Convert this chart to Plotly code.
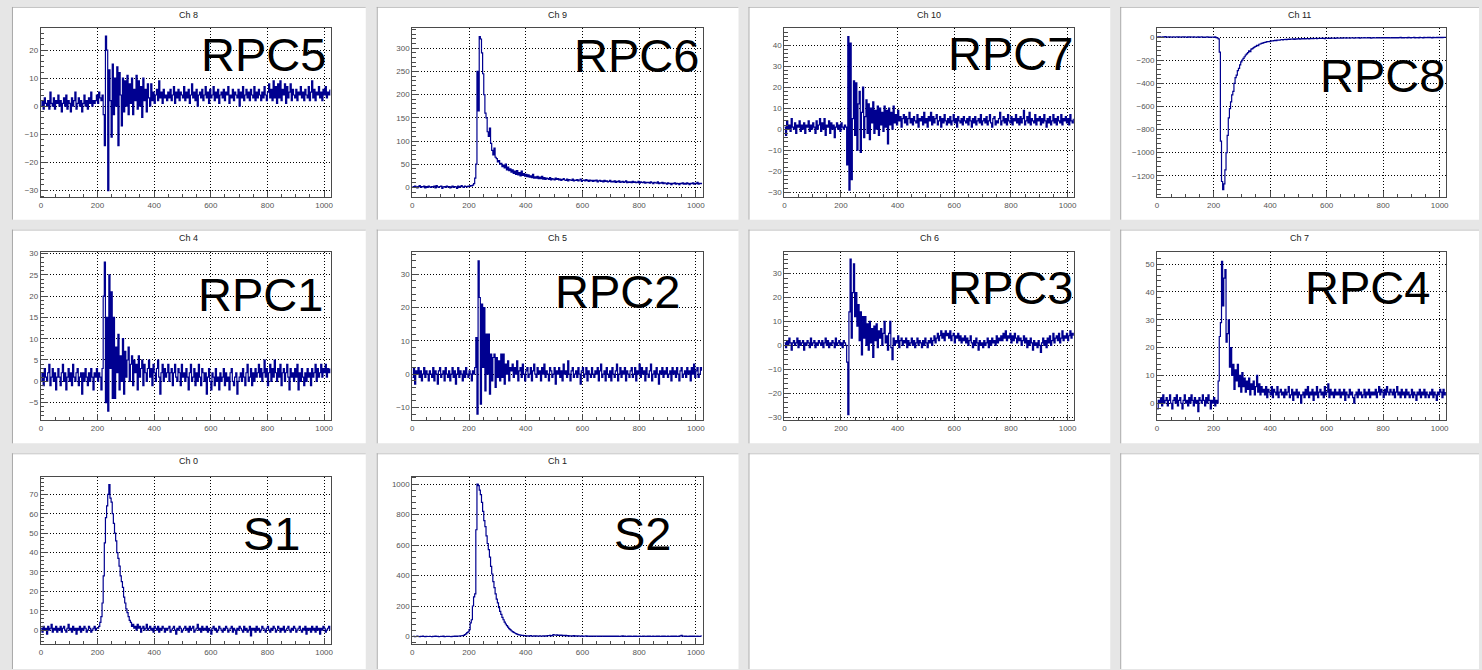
import plotly.graph_objects as go

W, H = 1482, 670

# Waveforms sampled every 4 ADC bins (0..1020), one list per channel
ch8_rpc5 = [
    0, 2, -1, 3, 1, 0, 2, -1, 5, 1, 0, 3, -1, 2, 1, 4,
    0, 2, -2, 1, 3, 0, 4, -1, 2, 1, -2, 3, 0, 2, 5, -1,
    1, 3, 0, 2, -2, 1, 4, 0, 2, -1, 3, 1, 5, 0, 2, 1,
    2, 4, 1, 5, 3, 2, 4, -3, -14, 25, 20, -30, 13, 2, -11, 15,
    -3, 10, 0, 14, -14, 12, 4, -7, 10, -2, 9, 0, 11, -3, 8, 1,
    10, -3, 6, 2, 11, -1, 9, 0, 7, -4, 10, 2, 6, -2, 8, 3,
    0, 8, 2, 5, 1, 4, 6, 2, 9, 3, 5, 1, 6, 3, 4, 2,
    5, 3, 6, 2, 4, 7, 1, 5, 3, 6, 2, 5, 4, 3, 7, 2,
    5, 3, 6, 1, 4, 8, 3, 5, 2, 6, 0, 4, 5, 3, 6, 2,
    4, 7, 3, 5, 1, 6, 3, 4, 7, 2, 5, 3, 6, 1, 4, 5,
    3, 6, 2, 5, 4, 7, 1, 4, 3, 6, 2, 5, 4, 3, 6, 0,
    5, 3, 7, 2, 4, 6, 3, 5, 2, 6, 4, 3, 7, 2, 5, 3,
    6, 4, 2, 5, 3, 7, 4, 2, 5, 8, 3, 6, 2, 9, 3, 7,
    1, 8, 3, 9, 2, 6, 4, 8, 1, 7, 3, 5, 8, 2, 6, 4,
    3, 6, 2, 5, 4, 7, 3, 5, 2, 6, 4, 3, 7, 2, 5, 9,
    3, 6, 2, 5, 4, 7, 3, 5, 2, 6, 4, 7, 3, 5, 4, 6,
]

ch9_rpc6 = [
    2, 0, 3, 1, -1, 2, 4, 0, 2, 1, 3, -1, 2, 0, 3, 1,
    0, 2, 1, 3, -1, 4, 1, 0, 2, 3, -2, 1, 2, 0, 3, 1,
    2, -1, 1, 3, 0, 2, 1, -2, 3, 0, 2, 4, 1, 0, 3, 2,
    1, 3, 2, 4, 3, 5, 8, 20, 50, 250, 165, 325, 320, 290, 245, 200,
    160, 150, 120, 110, 128, 95, 80, 70, 85, 65, 62, 55, 58, 50, 52, 45,
    48, 42, 50, 38, 44, 36, 40, 33, 38, 30, 35, 28, 36, 27, 32, 25,
    35, 26, 30, 24, 28, 23, 27, 22, 25, 21, 28, 20, 23, 20, 24, 19,
    22, 19, 24, 18, 21, 17, 20, 19, 17, 21, 16, 19, 18, 16, 20, 17,
    19, 16, 18, 15, 17, 19, 16, 15, 18, 14, 17, 16, 15, 18, 14, 16,
    15, 17, 14, 16, 18, 13, 15, 16, 14, 17, 15, 13, 16, 14, 15, 13,
    15, 14, 16, 12, 14, 15, 13, 14, 12, 15, 13, 14, 12, 13, 15, 12,
    13, 12, 14, 11, 13, 12, 14, 11, 12, 13, 11, 12, 14, 10, 12, 11,
    12, 10, 13, 11, 12, 10, 11, 13, 9, 12, 11, 10, 12, 9, 11, 10,
    11, 9, 12, 10, 8, 11, 10, 9, 12, 8, 10, 9, 11, 8, 10, 9,
    7, 10, 8, 9, 6, 9, 8, 10, 7, 9, 8, 6, 9, 8, 10, 7,
    9, 7, 10, 8, 6, 9, 8, 10, 7, 9, 8, 11, 7, 9, 8, 10,
]

ch10_rpc7 = [
    1, -3, 4, 0, 2, -1, 5, 1, 0, 3, -2, 2, 1, 4, -1, 2,
    0, 3, -2, 2, 1, 4, -1, 2, 0, 3, 1, -2, 4, 0, 2, 5,
    -1, 3, 0, 5, -3, 2, 1, 4, -2, 3, 0, 2, -4, 1, 3, 0,
    2, -1, 3, 1, 0, 2, 1, -17, 44, -29, 41, -24, 5, 23, -3, 22,
    -10, 12, 18, -11, 8, 20, -4, 6, 14, -2, 12, -5, 10, 3, 13, -2,
    9, 0, 11, -3, 10, 2, 8, -1, 11, 1, 9, -7, 10, 2, 8, 0,
    11, 3, 7, 2, 9, 4, 6, 1, 5, 7, 3, 6, 2, 5, 8, 3,
    5, 2, 6, 4, 3, 7, 1, 5, 4, 6, 2, 8, 3, 5, 1, 6,
    4, 8, 2, 6, 3, 5, 7, 2, 4, 6, 1, 5, 3, 7, 4, 2,
    5, 3, 6, 2, 4, 7, 3, 5, 1, 6, 4, 3, 5, 2, 6, 4,
    3, 5, 2, 6, 4, 1, 5, 3, 6, 2, 4, 5, 3, 7, 2, 4,
    5, 3, 6, 2, 4, 7, 3, 1, 5, 6, 2, 4, 3, 5, 8, 2,
    4, 6, 3, 5, 2, 7, 4, 3, 6, 2, 5, 4, 7, 3, 5, 2,
    6, 3, 5, 9, 2, 4, 6, 3, 8, 2, 5, 4, 3, 7, 2, 5,
    4, 6, 2, 5, 3, 7, 4, 1, 5, 3, 6, 2, 4, 7, 3, 5,
    2, 6, 4, 3, 7, 2, 5, 4, 6, 3, 5, 2, 7, 4, 3, 5,
]

ch11_rpc8 = [
    2, 0, 3, 1, -2, 2, 0, 4, 1, -1, 2, 3, 0, 1, 2, -1,
    1, 3, 0, 2, -1, 1, 3, 0, 2, 1, -2, 2, 0, 3, 1, 0,
    2, -1, 1, 0, 3, -2, 1, 2, 0, -3, 1, -1, 2, 0, -2, 1,
    -1, 0, -2, 2, -4, -8, -15, -130, -900, -1250, -1320, -1270, -1150, -1000, -850, -700,
    -620, -560, -500, -470, -400, -350, -330, -290, -270, -240, -215, -200, -185, -170, -155, -145,
    -135, -120, -125, -105, -100, -92, -85, -80, -72, -75, -62, -60, -55, -52, -48, -45,
    -44, -40, -38, -40, -35, -32, -34, -30, -28, -30, -26, -25, -27, -23, -22, -24,
    -21, -20, -22, -19, -18, -20, -17, -18, -16, -19, -15, -17, -16, -14, -17, -15,
    -14, -16, -13, -15, -12, -14, -16, -12, -13, -11, -14, -12, -10, -13, -11, -12,
    -10, -12, -9, -11, -13, -9, -10, -12, -8, -11, -9, -10, -8, -11, -9, -7,
    -10, -8, -9, -7, -10, -8, -6, -9, -7, -8, -10, -6, -8, -7, -9, -6,
    -8, -7, -5, -9, -7, -6, -8, -5, -7, -6, -8, -5, -7, -9, -6, -5,
    -7, -6, -8, -5, -6, -7, -4, -6, -8, -5, -7, -4, -6, -5, -7, -6,
    -4, -6, -5, -7, -4, -6, -5, -3, -6, -4, -7, -5, -4, -6, -3, -5,
    -6, -4, -5, -3, -6, -4, -5, -7, -3, -5, -4, -6, -3, -5, -4, -2,
    -5, -3, -4, -6, -2, -4, -5, -3, -4, -2, -5, -3, -4, -2, -3, -4,
]

ch4_rpc1 = [
    0, 2, -1, 3, 1, 0, 2, 4, -1, 1, 3, 0, 2, -2, 1, 3,
    1, -1, 2, 4, 0, 2, -2, 1, 3, 0, 2, -1, 4, 1, 0, 2,
    3, -1, 1, 2, -3, 2, 0, 3, 1, -1, 2, 0, 3, 1, -2, 2,
    1, 3, 0, 2, 1, -2, 3, 20, 28, -5, 15, -7, 25, 3, 21, -4,
    15, -4, 8, 2, 11, -2, 6, 0, 10, -3, 7, 1, 5, 8, 0, 4,
    6, -1, 5, 2, 4, -2, 6, 1, 3, 5, -1, 4, 2, 0, 3, 5,
    1, 3, -1, 4, 2, 0, 3, 5, 1, -3, 2, 4, 0, 3, 1, 2,
    4, 0, 2, 3, -1, 2, 4, 1, 0, 3, 2, -1, 4, 1, 2, 0,
    3, 1, -2, 2, 4, 0, 1, 3, -1, 2, 0, 4, 1, -1, 3, 2,
    0, 2, -3, 1, 3, 0, -2, 2, 1, -1, 3, 0, 1, -2, 2, 0,
    1, 3, -1, 2, 0, 1, -2, 2, 3, 0, -1, 1, 2, -3, 0, 1,
    2, 0, 3, 1, -1, 2, 4, 0, 1, 3, -1, 2, 0, 3, 1, 2,
    4, 1, 3, 0, 2, 5, 1, 3, -1, 2, 4, 0, 3, 1, 5, 2,
    0, 3, 1, 4, -1, 2, 3, 0, 2, 4, 1, -2, 3, 1, 2, 0,
    3, 1, 4, -2, 2, 0, 3, 1, -1, 2, 0, 3, 1, 2, -1, 3,
    1, 2, 4, 0, 3, 1, 2, 4, 1, 3, 2, 4, 1, 3, 2, 3,
]

ch5_rpc2 = [
    -1, 2, -3, 1, 0, 2, -1, 1, -2, 0, 2, -1, 1, 0, -2, 1,
    0, -1, 2, -2, 1, 0, -3, 1, 2, -1, 0, 1, -2, 2, 0, -1,
    1, -2, 0, 2, -1, 1, -3, 0, 2, -1, 1, 0, -2, 1, -1, 2,
    0, -1, 1, 0, -2, 1, 0, 2, 11, -12, 34, 23, -9, 21, 2, 20,
    -5, 12, 0, 12, -6, 6, -2, 5, 6, -4, 5, -1, 4, -2, 6, -1,
    6, -3, 3, 0, 4, -2, 2, 1, 3, -1, 2, 0, 4, -2, 1, 2,
    -1, 3, 0, -2, 1, 2, -1, 0, 2, -2, 1, 3, 0, -1, 2, 0,
    1, -2, 2, 0, 3, -1, 1, 0, -2, 2, 1, -1, 0, 2, -3, 1,
    0, 2, -1, 1, -2, 3, 0, 1, -1, 4, 0, -2, 1, 2, -1, 0,
    1, -1, 2, 0, -3, 1, 2, -1, 0, 2, -2, 1, 0, -1, 2, 0,
    -1, 1, 0, 2, -2, 1, 3, -1, 0, 1, -2, 2, 0, -1, 1, -2,
    2, 0, -1, 1, 3, -2, 0, 2, -1, 1, 0, 2, -2, 1, 0, -1,
    1, 2, -1, 0, 2, -2, 1, 0, 3, -1, 2, 0, 1, -2, 2, 0,
    -1, 1, 3, -2, 0, 1, -1, 2, 0, -3, 1, 0, 2, -1, 1, 0,
    2, -1, 0, 1, -2, 2, 0, 1, -1, 2, 0, -2, 1, 2, -1, 0,
    1, -1, 2, 0, 1, -2, 2, 0, 3, -1, 1, 2, -1, 0, 2, 1,
]

ch6_rpc3 = [
    1, -1, 2, 0, 3, 1, -2, 1, 2, 0, 1, 3, -1, 2, 0, 1,
    2, -2, 1, 0, 2, 1, -1, 3, 0, 1, 2, -1, 1, 0, 2, 1,
    0, 2, -1, 1, 3, 0, 2, -1, 1, 0, 2, 1, -1, 3, 0, 1,
    2, 0, 1, -1, 2, 1, 0, -7, -29, 14, 36, 3, 22, 34, 12, 22,
    8, 17, 2, 14, -4, 12, 3, 12, 0, 9, -2, 10, 1, 7, -5, 8,
    2, 9, -1, 6, 3, 7, 0, 5, 10, 1, 4, -2, 5, 10, -1, -6,
    3, 0, 2, 1, 4, -1, 2, 3, 0, 2, 1, 3, -1, 2, 0, 1,
    3, 0, 2, -1, 1, 3, 0, 2, 1, -1, 2, 0, 3, 1, -1, 2,
    1, 3, 0, 2, 4, 1, 3, 5, 2, 4, 6, 3, 5, 2, 6, 4,
    5, 3, 6, 2, 4, 5, 1, 4, 3, 5, 2, 4, 1, 3, 2, 4,
    1, 3, 0, 2, 4, 1, -1, 2, 0, 3, 1, -2, 2, 0, 1, -1,
    2, 0, 1, 3, -1, 2, 0, 3, 1, 2, 0, 4, 1, 3, 2, 4,
    2, 5, 3, 6, 2, 4, 3, 5, 1, 4, 2, 5, 3, 1, 4, 2,
    3, 0, 2, 4, 1, 3, -1, 2, 0, 3, 1, -2, 2, 0, 1, -1,
    2, 0, -3, 1, 3, 0, 2, -1, 3, 1, 4, 0, 2, 5, 1, 3,
    4, 2, 5, 1, 3, 6, 2, 4, 3, 5, 2, 4, 6, 3, 5, 4,
]

ch7_rpc4 = [
    -2, 1, 0, 2, -1, 3, 0, 1, 2, -1, 1, 3, 0, -2, 1, 2,
    0, 3, -1, 1, 2, 0, -2, 1, 3, 0, 1, -1, 2, 0, 3, 1,
    -1, 2, 0, 1, -3, 2, 1, 0, 3, 1, -1, 2, 0, 3, 1, -2,
    1, 0, 2, -1, 1, 0, 8, 24, 29, 51, 35, 45, 48, 22, 25, 30,
    13, 20, 10, 14, 5, 12, 8, 14, 6, 10, 4, 11, 6, 9, 4, 8,
    5, 9, 3, 7, 5, 8, 3, 6, 10, 4, 7, 3, 6, 4, 5, 3,
    6, 2, 5, 4, 3, 6, 2, 5, 4, 3, 6, 2, 4, 5, 3, 4,
    2, 5, 3, 4, 6, 2, 3, 5, 1, 4, 3, 5, 2, 4, 3, 0,
    3, 4, 2, 5, 3, 6, 2, 4, 3, 5, 1, 4, 3, 6, 2, 4,
    5, 3, 4, 2, 6, 3, 4, 7, 2, 5, 3, 4, 2, 5, 3, 4,
    3, 5, 2, 4, 3, 5, 1, 4, 3, 2, 5, 3, 4, 2, 0, 3,
    4, 2, 5, 3, 4, 2, 3, 5, 2, 4, 3, 5, 2, 4, 3, 4,
    3, 5, 2, 4, 6, 3, 5, 4, 2, 5, 3, 6, 4, 3, 5, 4,
    3, 5, 2, 4, 6, 3, 4, 2, 5, 3, 4, 2, 5, 3, 4, 2,
    3, 5, 2, 4, 3, 1, 4, 3, 5, 2, 4, 3, 5, 2, 4, 3,
    2, 4, 3, 5, 2, 4, 3, 1, 4, 3, 5, 4, 2, 5, 3, 4,
]

ch0_s1 = [
    1, -1, 2, 0, 1, -2, 2, 0, 1, 3, -1, 1, 0, 2, -1, 1,
    0, 2, -1, 1, 2, 0, -1, 1, 3, 0, 1, -1, 2, 0, 1, -2,
    1, 0, 2, -1, 1, 0, 2, 1, -1, 0, 2, 1, -1, 0, 1, 2,
    0, 1, 1, 2, 4, 7, 14, 28, 45, 58, 64, 70, 75, 68, 66, 60,
    55, 50, 46, 40, 37, 33, 28, 25, 22, 17, 14, 11, 9, 7, 5, 4,
    2, 3, 1, 2, 0, 3, 1, 2, -1, 1, 2, 0, 1, 3, 0, 1,
    2, 0, 1, -1, 2, 1, 0, 2, -1, 1, 0, 2, 1, -1, 1, 0,
    1, 2, -1, 0, 1, 2, 0, -2, 1, 0, 2, 1, -1, 0, 1, 2,
    0, 1, -1, 2, 0, 1, 2, -1, 0, 1, 3, 0, 1, -1, 2, 0,
    1, 0, 2, -1, 1, 0, -2, 1, 2, 0, 1, -1, 0, 2, 1, 0,
    -1, 1, 0, 2, 1, -1, 0, 1, 2, -1, 1, 0, -2, 1, 0, 2,
    1, 0, -1, 2, 0, 1, -1, 0, 2, -3, 1, 0, 1, -1, 2, 0,
    1, -1, 0, 2, 1, 0, -1, 1, 2, 0, -1, 1, 0, 2, 1, -1,
    0, 2, 1, -1, 1, 0, 2, -1, 0, 1, 2, 0, -1, 1, 0, 2,
    1, -1, 0, 1, 2, 0, -1, 1, 0, 2, -2, 1, 0, 1, -1, 2,
    0, 1, -1, 2, 0, 1, -2, 1, 0, 2, 1, -1, 0, 1, 2, 0,
]

ch1_s2 = [
    0, 1, -1, 0, 2, 0, -1, 1, 0, 2, 0, -1, 1, 0, 0, 1,
    0, -1, 1, 0, 2, 0, 1, -1, 0, 1, 0, 2, -1, 0, 1, 0,
    1, 0, -1, 1, 0, 2, 1, 2, 3, 3, 4, 5, 6, 8, 12, 18,
    25, 30, 45, 90, 110, 200, 260, 280, 700, 1000, 990, 960, 930, 880, 820, 760,
    720, 660, 610, 570, 520, 460, 410, 360, 320, 280, 245, 220, 190, 165, 145, 125,
    110, 95, 82, 72, 62, 52, 45, 38, 32, 27, 23, 19, 16, 13, 11, 9,
    8, 7, 5, 6, 4, 5, 3, 4, 6, 3, 2, 4, 3, 5, 2, 3,
    4, 2, 3, 5, 2, 4, 3, 6, 5, 7, 4, 6, 12, 10, 9, 11,
    8, 10, 7, 9, 6, 8, 5, 7, 4, 6, 3, 5, 4, 2, 6, 3,
    4, 2, 5, 3, 2, 4, 1, 3, 2, 4, 1, 3, 2, 1, 3, 2,
    1, 3, 2, 0, 2, 1, 3, 2, 0, 2, 1, 3, 1, 2, 0, 2,
    1, 2, 0, 3, 1, 2, 0, 1, 2, 4, 1, 2, 0, 1, 3, 1,
    2, 0, 1, 3, 1, 2, 0, 1, 2, 0, 1, 2, 3, 1, 0, 2,
    1, 2, 0, 1, 2, 1, 0, 2, 1, 3, 1, 0, 2, 1, 2, 0,
    1, 2, 1, 0, 2, 1, 3, 1, 2, 0, 1, 2, 4, 8, 3, 2,
    1, 2, 0, 1, 2, 1, 3, 1, 2, 0, 1, 2, 1, 0, 2, 1,
]

channel_titles = ["Ch 8", "Ch 9", "Ch 10", "Ch 11",
                  "Ch 4", "Ch 5", "Ch 6", "Ch 7",
                  "Ch 0", "Ch 1"]
detector_names = ["RPC5", "RPC6", "RPC7", "RPC8",
                  "RPC1", "RPC2", "RPC3", "RPC4",
                  "S1", "S2"]
waveforms = [ch8_rpc5, ch9_rpc6, ch10_rpc7, ch11_rpc8,
             ch4_rpc1, ch5_rpc2, ch6_rpc3, ch7_rpc4,
             ch0_s1, ch1_s2]

# Canvas geometry (pixels): pad boxes per column / row, frames inside them
pad_cols = [(10, 365), (376, 739), (749, 1112), (1122, 1482)]
pad_rows = [(4, 218), (228, 443), (453, 670)]
frame_cols = [(39, 330), (411.7, 703), (785, 1076), (1159, 1449.3)]
frame_rows = [(25, 195.5), (250.7, 420), (476.7, 645)]

# Per-panel y-axis layout: range, major step, minor step
yaxis_cfg = [
    ((-32.4, 27.9), 10, 2),
    ((-21.4, 344), 50, 10),
    ((-32.4, 48.2), 10, 2),
    ((-1387, 80), 200, 40),
    ((-9.2, 30.3), 5, 1),
    ((-13.9, 36.6), 10, 2),
    ((-31.4, 38.9), 10, 2),
    ((-6.2, 54.3), 10, 2),
    ((-7.2, 79), 10, 2),
    ((-50, 1047), 200, 40),
]
# Big detector labels: left edge x, vertical centre of caps (pixels)
label_pos = [(198, 51.5), (572, 53), (947, 50.7), (1320, 72.5),
             (195, 293.3), (553, 290.7), (947, 286.7), (1305, 285.8),
             (240, 533.8), (612, 533.8)]

LINE = "#000090"
GRAY_BG = "#e6e6e6"
FRAME = "#4a4a4a"


def fx(px):
    return px / W


def fy(py):
    return 1 - py / H


fig = go.Figure()
shapes = []
annotations = []

# White pads with a bevel edge on top/left (includes the two empty pads)
for r, (pt, pb) in enumerate(pad_rows):
    for c, (pl, pr) in enumerate(pad_cols):
        shapes.append(dict(type="rect", xref="paper", yref="paper",
                           x0=fx(pl), x1=fx(pr), y0=fy(pb), y1=fy(pt),
                           fillcolor="white", line=dict(width=0), layer="below"))
        shapes.append(dict(type="line", xref="paper", yref="paper",
                           x0=fx(pl), x1=fx(pr), y0=fy(pt + 0.5), y1=fy(pt + 0.5),
                           line=dict(color="#c4c4c4", width=1), layer="below"))
        shapes.append(dict(type="line", xref="paper", yref="paper",
                           x0=fx(pl + 0.5), x1=fx(pl + 0.5), y0=fy(pb), y1=fy(pt),
                           line=dict(color="#a8a8a8", width=1), layer="below"))

for i, y in enumerate(waveforms):
    r, c = divmod(i, 4)
    fl, fr = frame_cols[c]
    ft, fb = frame_rows[r]
    (y0, y1), dt, mdt = yaxis_cfg[i]
    n = i + 1
    xa = "xaxis" if n == 1 else f"xaxis{n}"
    ya = "yaxis" if n == 1 else f"yaxis{n}"
    xs = [4 * k for k in range(len(y))]
    fig.add_trace(go.Scatter(
        x=xs, y=y, mode="lines", line=dict(color=LINE, width=1.2, shape="hv"),
        xaxis="x" if n == 1 else f"x{n}", yaxis="y" if n == 1 else f"y{n}",
        showlegend=False, hoverinfo="skip"))

    common = dict(showline=True, linecolor=FRAME, linewidth=1, mirror=True,
                  ticks="inside", tickcolor=FRAME, showgrid=True,
                  gridcolor="black", griddash="1px,2px", gridwidth=1,
                  zeroline=False,
                  tickfont=dict(family="Liberation Sans, Arial", size=8, color="#555555"))
    fig.update_layout(**{
        xa: dict(domain=[fx(fl), fx(fr)], anchor="y" if n == 1 else f"y{n}",
                 range=[0, 1024], dtick=200, tick0=0, ticklen=6,
                 minor=dict(dtick=50, ticks="inside", ticklen=3, tickcolor=FRAME,
                            showgrid=False),
                 **common),
        ya: dict(domain=[fy(fb), fy(ft)], anchor="x" if n == 1 else f"x{n}",
                 range=[y0, y1], dtick=dt, tick0=0, ticklen=7,
                 minor=dict(dtick=mdt, ticks="inside", ticklen=3.5, tickcolor=FRAME,
                            showgrid=False),
                 **common),
    })

    pl, pr = pad_cols[c]
    pt, _ = pad_rows[r]
    annotations.append(dict(text=channel_titles[i], xref="paper", yref="paper",
                            x=fx((pl + pr) / 2), y=fy(pt + 8), xanchor="center",
                            yanchor="middle", showarrow=False,
                            font=dict(family="Liberation Sans, Arial", size=9,
                                      color="#222222")))
    lx, ly = label_pos[i]
    annotations.append(dict(text=detector_names[i], xref="paper", yref="paper",
                            x=fx(lx), y=fy(ly), xanchor="left", yanchor="middle",
                            showarrow=False,
                            font=dict(family="Liberation Sans, Arial", size=47,
                                      color="black")))

fig.update_layout(width=W, height=H, autosize=False,
                  margin=dict(l=0, r=0, t=0, b=0, pad=0),
                  paper_bgcolor=GRAY_BG, plot_bgcolor="white",
                  shapes=shapes, annotations=annotations)

fig.write_html("out.html")
